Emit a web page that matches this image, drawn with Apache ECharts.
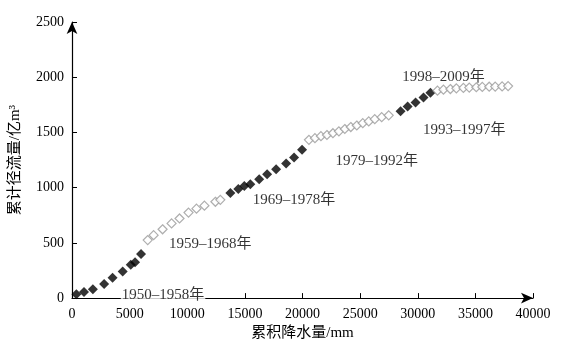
<!DOCTYPE html>
<html><head><meta charset="utf-8">
<script src="https://cdn.jsdelivr.net/npm/echarts@6/dist/echarts.min.js"></script>
<style>html,body{margin:0;padding:0;background:#fff}#c{width:564px;height:346px}</style>
</head><body><div id="c"></div>
<script>
// Cumulative precipitation (mm) and cumulative runoff (亿m³) by period
const p1950 = [380, 1040, 1810, 2790, 3520, 4400, 5100, 5470, 5990];
const r1950 = [35, 55, 80, 128, 185, 240, 303, 325, 400];
const p1959 = [6570, 7080, 7860, 8640, 9330, 10110, 10800, 11490, 12440, 12870];
const r1959 = [525, 570, 623, 676, 721, 774, 810, 837, 872, 890];
const p1969 = [13740, 14430, 14950, 15470, 16240, 16930, 17710, 18580, 19270, 19960];
const r1969 = [952, 988, 1015, 1032, 1077, 1121, 1166, 1219, 1273, 1344];
const p1979 = [20560, 21080, 21600, 22120, 22640, 23160, 23670, 24190, 24710, 25230, 25750, 26270, 26870, 27480];
const r1979 = [1433, 1448, 1466, 1477, 1493, 1510, 1531, 1549, 1563, 1584, 1600, 1620, 1638, 1655];
const p1993 = [28510, 29120, 29810, 30500, 31100];
const r1993 = [1691, 1736, 1771, 1816, 1860];
const p1998 = [31710, 32230, 32830, 33350, 33960, 34470, 35080, 35600, 36200, 36720, 37320, 37840];
const r1998 = [1878, 1887, 1893, 1899, 1903, 1906, 1909, 1912, 1914, 1915, 1917, 1920];

const periodLabels = ['1950–1958年','1959–1968年','1969–1978年','1979–1992年','1993–1997年','1998–2009年'];
const labelAnchorX = [7900, 12000, 19270, 26440, 34040, 32230];
const labelAnchorY = [25, 489, 890, 1237, 1521, 2005];

const xTicks = [0, 5000, 10000, 15000, 20000, 25000, 30000, 35000, 40000];
const yTicks = [0, 500, 1000, 1500, 2000, 2500];

const zip = (a, b) => a.map((v, i) => [v, b[i]]);
const FONT = '"Liberation Serif", "Noto Sans CJK SC", serif';

const filled = { symbol: 'diamond', symbolSize: 10, itemStyle: { color: '#000' } };
const hollow = { symbol: 'diamond', symbolSize: 9, itemStyle: { color: '#fff', borderColor: '#9a9a9a', borderWidth: 1.2 } };

const groups = [
  [p1950, r1950, filled], [p1959, r1959, hollow], [p1969, r1969, filled],
  [p1979, r1979, hollow], [p1993, r1993, filled], [p1998, r1998, hollow]
];

const series = groups.map((g, i) => Object.assign({
  type: 'scatter', data: zip(g[0], g[1]), silent: true
}, g[2]));

series.push({
  type: 'scatter', silent: true, symbol: 'circle', symbolSize: 1, z: 10,
  itemStyle: { color: 'rgba(0,0,0,0)' },
  label: { show: true, position: 'inside', color: '#000', fontFamily: FONT, fontSize: 15,
    formatter: p => p.name },
  data: periodLabels.map((t, i) => ({
    name: t, value: [labelAnchorX[i], labelAnchorY[i]],
    label: i === 0 ? { backgroundColor: '#fff', padding: [0, 1, 2, 1] } : {}
  }))
});

const chart = echarts.init(document.getElementById('c'), null, { renderer: 'canvas' });
chart.setOption({
  animation: false,
  backgroundColor: '#fff',
  grid: { left: 70, right: 31, top: 22, bottom: 43, containLabel: false },
  xAxis: {
    type: 'value', min: 0, max: 40000, interval: 5000,
    name: '累积降水量/mm', nameLocation: 'middle', nameGap: 27,
    nameTextStyle: { fontFamily: FONT, fontSize: 15, color: '#000' },
    axisLine: { show: true, symbol: ['none', 'arrow'], symbolSize: [8, 12], lineStyle: { color: '#000', width: 1.2 } },
    axisTick: { show: true, inside: true, length: 5, lineStyle: { color: '#000' } },
    axisLabel: { fontFamily: FONT, fontSize: 14, color: '#000', margin: 9,
      formatter: v => xTicks.includes(v) ? String(v) : '' },
    splitLine: { show: false }
  },
  yAxis: {
    type: 'value', min: 0, max: 2500, interval: 500,
    name: '累计径流量/亿m³', nameLocation: 'middle', nameGap: 49,
    nameTextStyle: { fontFamily: FONT, fontSize: 15, color: '#000' },
    axisLine: { show: true, symbol: ['none', 'arrow'], symbolSize: [8, 12], lineStyle: { color: '#000', width: 1.2 } },
    axisTick: { show: true, inside: true, length: 5, lineStyle: { color: '#000' } },
    axisLabel: { fontFamily: FONT, fontSize: 14, color: '#000', margin: 8,
      formatter: v => yTicks.includes(v) ? String(v) : '' },
    splitLine: { show: false }
  },
  series: series
});
</script></body></html>
